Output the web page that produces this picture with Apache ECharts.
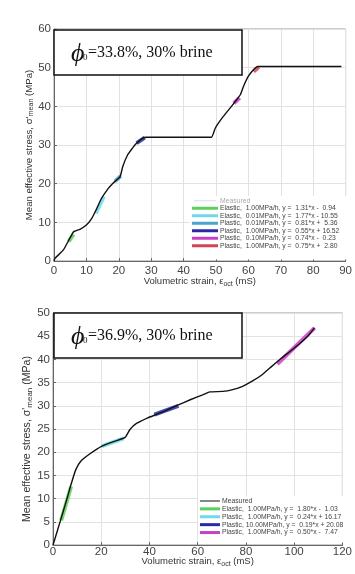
<!DOCTYPE html>
<html><head><meta charset="utf-8">
<script src="https://cdn.jsdelivr.net/npm/echarts@6/dist/echarts.min.js"></script>
<style>html,body{margin:0;padding:0;background:#fff}#c{width:355px;height:574px}</style>
</head><body><div id="c"></div>
<script>
// ---- Top panel (phi0 = 33.8%) ----
const topX = [0, 0.3, 2.85, 4.9, 6.1, 8, 10, 11.5, 13.1, 14.6, 16.6, 18.2, 20.4, 21.2, 22.7, 23.8, 25.3, 27.4, 28.4, 35, 45, 48.6, 49.8, 51.9, 53.9, 56, 57.5, 58.5, 60, 62.1, 63.1, 70, 80, 88.7];
const topY = [0, 0.7, 2.8, 5.9, 7.6, 8.2, 9.3, 10.8, 13.4, 16.1, 18.6, 20.1, 21.8, 24.4, 27.4, 28.7, 30.3, 31.8, 32, 32, 32, 32, 34.4, 37, 39.1, 41.3, 43, 45.2, 47.8, 49.9, 50.3, 50.3, 50.3, 50.3];
const topFitNames = [
  'Elastic,  1.00MPa/h, y =  1.31*x -  0.94',
  'Elastic,  0.01MPa/h, y =  1.77*x - 10.55',
  'Plastic,  0.01MPa/h, y =  0.81*x +  5.36',
  'Plastic,  1.00MPa/h, y =  0.55*x + 16.52',
  'Plastic,  0.10MPa/h, y =  0.74*x -  0.23',
  'Plastic,  1.00MPa/h, y =  0.75*x +  2.80'
];
const topFitX = [[4.5, 6.0], [12.9, 15.4], [18.8, 20.6], [25.5, 28.0], [55.5, 57.3], [61.6, 63.2]];
const topFitY = [[5.0, 6.9], [12.3, 16.7], [20.6, 22.0], [30.5, 31.9], [40.8, 42.2], [49.0, 50.2]];
const topColors = ['#5ccf5c', '#6fd8ea', '#4aa6c8', '#2a2aa8', '#c840c8', '#d44450'];

// ---- Bottom panel (phi0 = 36.9%) ----
const botX = [0, 2, 4.1, 6.1, 7.5, 9.5, 11.6, 14.9, 20.3, 25.8, 29.9, 31.9, 34.6, 39.3, 42.7, 46, 51.5, 56.9, 62.3, 65, 70.4, 74.5, 78.6, 82.6, 86.7, 90.7, 94.8, 100.2, 105.6, 108.4];
const botY = [0, 3.4, 7.0, 10.5, 13.1, 16.3, 18.1, 19.5, 21.3, 22.4, 23.2, 24.9, 26.2, 27.4, 28.1, 28.8, 30.1, 31.3, 32.4, 33, 33.1, 33.5, 34.2, 35.3, 36.7, 38.5, 40.3, 42.5, 45, 46.8];
const botFitNames = [
  'Elastic,  1.00MPa/h, y =  1.80*x -  1.03',
  'Plastic,  1.00MPa/h, y =  0.24*x + 16.17',
  'Plastic, 10.00MPa/h, y =  0.19*x + 20.08',
  'Plastic,  1.00MPa/h, y =  0.50*x -  7.47'
];
const botFitX = [[3.4, 7.5], [20.3, 29.3], [42, 52], [93, 108.5]];
const botFitY = [[5.3, 12.6], [21.3, 23.0], [28.1, 30.0], [39.0, 46.8]];
const botColors = ['#5ccf5c', '#6fd8ea', '#2a2aa8', '#c840c8'];

const topYTicks = {min: 0, max: 60, interval: 10};
const topXTicks = {min: 0, max: 90, interval: 10};
const botYTicks = {min: 0, max: 50, interval: 5};
const botXTicks = {min: 0, max: 120, interval: 20};

const zip = (xs, ys) => xs.map((x, i) => [x, ys[i]]);
const FONT = 'Liberation Sans, Arial, sans-serif';
const THIN_ICON = 'path://M0,0 L0.01,0 Z M0,1.0 L22,1.0 L22,2.0 L0,2.0 Z M0,3 L0.01,3 Z';

function xAxis(idx, t, gap, margin) {
  return {
    type: 'value', gridIndex: idx, min: t.min, max: t.max, interval: t.interval,
    name: 'Volumetric strain, ε{s|oct} (mS)', nameLocation: 'middle', nameGap: gap, nameMoveOverlap: false,
    nameTextStyle: {fontFamily: FONT, fontSize: 9.5, color: '#333', rich: {s: {fontFamily: FONT, fontSize: 7, color: '#333', padding: [6, 0, 0, 0]}}},
    axisLine: {lineStyle: {color: '#666', width: 1}},
    axisTick: {inside: true, length: 3, lineStyle: {color: '#666'}},
    axisLabel: {fontFamily: FONT, fontSize: 11.5, color: '#444', margin: margin},
    splitLine: {show: true, lineStyle: {color: '#e2e2e2', width: 1}}
  };
}
function yAxis(idx, t, fs, shift) {
  return {
    type: 'value', gridIndex: idx, min: t.min, max: t.max, interval: t.interval,
    name: "Mean effective stress, σ'{s|mean} (MPa)", nameLocation: 'middle', nameGap: 19, nameMoveOverlap: false,
    nameTextStyle: {fontFamily: FONT, fontSize: fs, color: '#333', padding: [0, shift, 0, 0],
      rich: {s: {fontFamily: FONT, fontSize: fs * 0.75, color: '#333', padding: [5, 0, 0, 0]}}},
    axisLine: {lineStyle: {color: '#666', width: 1}},
    axisTick: {inside: true, length: 3, lineStyle: {color: '#666'}},
    axisLabel: {fontFamily: FONT, fontSize: 11.5, color: '#444', margin: 3},
    splitLine: {show: true, lineStyle: {color: '#e2e2e2', width: 1}}
  };
}

const series = [];
function addPanel(idx, xs, ys, names, fx, fy, colors) {
  names.forEach((n, i) => {
    series.push({
      name: n, type: 'line', xAxisIndex: idx, yAxisIndex: idx, symbol: 'none',
      data: zip(fx[i], fy[i]), lineStyle: {color: colors[i], width: 4, opacity: 0.85},
      itemStyle: {color: colors[i]}, z: 2, silent: true
    });
  });
  series.push({
    name: 'Measured', type: 'line', xAxisIndex: idx, yAxisIndex: idx, symbol: 'none',
    smooth: 0.15, data: zip(xs, ys), lineStyle: {color: '#111', width: 1.4},
    itemStyle: {color: '#111'}, z: 3, silent: true
  });
}
addPanel(0, topX, topY, topFitNames, topFitX, topFitY, topColors);
addPanel(1, botX, botY, botFitNames, botFitX, botFitY, botColors);

function legend(left, top, names, iw, lh, measuredColor, measuredIconColor, padBottom) {
  return {
    orient: 'vertical', left: left, top: top, itemGap: 0, itemWidth: iw, itemHeight: 3,
    icon: 'rect', padding: [1, 8, padBottom, 2], backgroundColor: '#fff',
    data: [{name: 'Measured', icon: THIN_ICON, itemStyle: {color: measuredIconColor}, textStyle: {color: measuredColor}}].concat(names),
    textStyle: {fontFamily: FONT, fontSize: 6.8, lineHeight: lh, color: '#444', padding: [0, 0, 0, -3]},
    selectedMode: false
  };
}

function titleBox(y0, label) {
  return {
    type: 'group', children: [
      {type: 'rect', shape: {x: 54, y: y0, width: 188, height: 45}, style: {fill: '#fff', stroke: '#111', lineWidth: 1.5}, z: 10},
      {type: 'text', x: 71, y: y0 + 24, style: {text: 'ϕ', font: 'italic 26px "Liberation Serif", serif', fill: '#111', verticalAlign: 'middle'}, z: 11},
      {type: 'text', x: 83, y: y0 + 28, style: {text: '0', font: '9px "Liberation Serif", serif', fill: '#111', verticalAlign: 'middle'}, z: 11},
      {type: 'text', x: 88, y: y0 + 23, style: {text: label, font: '16px "Liberation Serif", serif', fill: '#111', verticalAlign: 'middle'}, z: 11}
    ]
  };
}

const chart = echarts.init(document.getElementById('c'), null, {renderer: 'canvas'});
chart.setOption({
  animation: false,
  backgroundColor: '#fff',
  grid: [
    {left: 54, top: 29, width: 294, height: 232, show: true, borderColor: '#999', borderWidth: 1, backgroundColor: 'transparent'},
    {left: 53, top: 313, width: 295, height: 232, show: true, borderColor: '#999', borderWidth: 1, backgroundColor: 'transparent'}
  ],
  xAxis: [xAxis(0, topXTicks, 14, 4), xAxis(1, botXTicks, 10, 1)],
  yAxis: [yAxis(0, topYTicks, 9.6, 0), yAxis(1, botYTicks, 10.6, 20)],
  legend: [legend(190, 196, topFitNames, 26, 7.5, '#aaa', '#ddd', 10), legend(198, 496, botFitNames, 20, 7.9, '#444', '#111', 6)],
  series: series,
  graphic: [titleBox(30, '=33.8%, 30% brine'), titleBox(313, '=36.9%, 30% brine')]
});
</script></body></html>
